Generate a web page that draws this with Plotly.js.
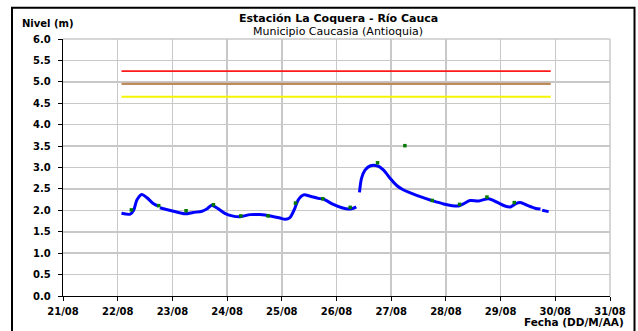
<!DOCTYPE html>
<html>
<head>
<meta charset="utf-8">
<script src="https://cdn.plot.ly/plotly-3.0.1.min.js"></script>
<style>
html,body{margin:0;padding:0;background:#fff;}
#chart{width:638px;height:331px;}
</style>
</head>
<body>
<div id="chart"></div>
<script>
// Continuous level record (m); null = gap in record
const levelTimes = [
  '2023-08-22 01:40','2023-08-22 05:30','2023-08-22 07:00','2023-08-22 08:25','2023-08-22 10:35',
  '2023-08-22 12:45','2023-08-22 15:35','2023-08-22 17:45','2023-08-22 18:05',
  '2023-08-22 18:30','2023-08-23 00:30','2023-08-23 05:30','2023-08-23 09:05','2023-08-23 13:00',
  '2023-08-23 15:05','2023-08-23 17:15','2023-08-23 19:25','2023-08-23 23:00','2023-08-24 02:10',
  '2023-08-24 05:45','2023-08-24 10:05','2023-08-24 14:25','2023-08-24 19:00','2023-08-24 23:15',
  '2023-08-25 01:30','2023-08-25 03:35','2023-08-25 04:20','2023-08-25 05:45','2023-08-25 07:10',
  '2023-08-25 09:35','2023-08-25 12:30','2023-08-25 16:05','2023-08-25 18:15','2023-08-25 22:35',
  '2023-08-26 02:25','2023-08-26 05:15','2023-08-26 07:25','2023-08-26 08:40','2023-08-26 09:20',
  '2023-08-26 10:05','2023-08-26 11:00','2023-08-26 12:30','2023-08-26 14:55','2023-08-26 17:45',
  '2023-08-26 20:40','2023-08-26 23:30','2023-08-27 02:25','2023-08-27 05:15','2023-08-27 08:25',
  '2023-08-27 12:45','2023-08-27 17:45','2023-08-27 23:00','2023-08-28 05:30','2023-08-28 07:40',
  '2023-08-28 10:35','2023-08-28 14:25','2023-08-28 18:45','2023-08-28 22:20','2023-08-29 01:55',
  '2023-08-29 04:20','2023-08-29 06:30','2023-08-29 08:40','2023-08-29 11:30','2023-08-29 15:05',
  '2023-08-29 17:30','2023-08-29 17:55','2023-08-29 18:15','2023-08-29 21:05'
];
const levelValues = [
  1.93, 1.91, 2.00, 2.24, 2.37,
  2.30, 2.16, 2.10, null,
  2.06, 1.98, 1.92, 1.95, 1.98,
  2.03, 2.12, 2.06, 1.93, 1.87,
  1.85, 1.90, 1.90, 1.87, 1.82,
  1.79, 1.83, 1.89, 2.05, 2.24,
  2.36, 2.33, 2.28, 2.26, 2.14,
  2.06, 2.03, 2.05, 2.08, null,
  2.42, 2.75, 2.94, 3.04, 3.04,
  2.94, 2.75, 2.58, 2.48, 2.41,
  2.32, 2.23, 2.15, 2.10, 2.15,
  2.23, 2.22, 2.27, 2.19, 2.10,
  2.08, 2.15, 2.18, 2.12, 2.05,
  2.03, null, 2.00, 1.97
];

// Manual readings (m)
const obsTimes = [
  '2023-08-22 06:00','2023-08-22 18:00','2023-08-23 06:00','2023-08-23 18:00','2023-08-24 06:00',
  '2023-08-24 18:00','2023-08-25 06:00','2023-08-25 18:00','2023-08-26 06:00','2023-08-26 18:00',
  '2023-08-27 06:00','2023-08-27 18:00','2023-08-28 06:00','2023-08-28 18:00','2023-08-29 06:00'
];
const obsValues = [2.01, 2.11, 1.99, 2.13, 1.87, 1.87, 2.17, 2.27, 2.07, 3.11, 3.51, 2.23, 2.14, 2.31, 2.18];

// Alert thresholds (m)
const thresholdTimes = ['2023-08-22 01:40', '2023-08-29 22:00'];
const redLevel = 5.25;
const orangeLevel = 4.95;
const yellowLevel = 4.65;

// Axis ticks
const xTickVals = ['2023-08-21','2023-08-22','2023-08-23','2023-08-24','2023-08-25','2023-08-26',
                   '2023-08-27','2023-08-28','2023-08-29','2023-08-30','2023-08-31'];
const xTickText = ['21/08','22/08','23/08','24/08','25/08','26/08','27/08','28/08','29/08','30/08','31/08'];
const yTickVals = [0,0.5,1,1.5,2,2.5,3,3.5,4,4.5,5,5.5,6];

const FONT = 'DejaVu Sans, Arial, sans-serif';

const traces = [
  {x: thresholdTimes, y: thresholdTimes.map(() => redLevel), mode: 'lines',
   line: {color: '#ff1a1a', width: 1.7}, hoverinfo: 'skip'},
  {x: thresholdTimes, y: thresholdTimes.map(() => orangeLevel), mode: 'lines',
   line: {color: 'rgb(190,140,90)', width: 2.3}, hoverinfo: 'skip'},
  {x: thresholdTimes, y: thresholdTimes.map(() => yellowLevel), mode: 'lines',
   line: {color: '#f5f500', width: 2}, hoverinfo: 'skip'},
  {x: levelTimes, y: levelValues, mode: 'lines', connectgaps: false,
   line: {color: '#0000ff', width: 3, shape: 'spline', smoothing: 0.8}},
  {x: obsTimes, y: obsValues, mode: 'markers',
   marker: {color: '#007a00', size: 3.5, symbol: 'square'}}
];

const L = 63, R = 610, T = 39, B = 296;
const W = R - L, H = B - T;
const px = v => (v - L) / W;
const py = v => (B - v) / H;

const layout = {
  width: 638, height: 331,
  margin: {l: 63, r: 28, t: 39, b: 35},
  paper_bgcolor: '#ffffff', plot_bgcolor: '#ffffff',
  showlegend: false,
  font: {family: FONT, color: '#000'},
  xaxis: {
    type: 'date',
    range: ['2023-08-21', '2023-08-31'],
    tickmode: 'array', tickvals: xTickVals, ticktext: xTickText,
    showgrid: true, gridcolor: '#c8c8c8', gridwidth: 1.5,
    showline: true, linecolor: '#000', linewidth: 1.3,
    ticks: 'outside', ticklen: 4, tickcolor: '#000', tickwidth: 1,
    ticklabelstandoff: 2,
    tickfont: {family: FONT, size: 10, color: '#000', weight: 'bold'},
    zeroline: false, fixedrange: true
  },
  yaxis: {
    range: [0, 6],
    tickmode: 'array', tickvals: yTickVals, tickformat: '.1f',
    showgrid: true, gridcolor: '#c8c8c8', gridwidth: 1.5,
    showline: true, linecolor: '#000', linewidth: 1.3,
    ticks: 'outside', ticklen: 4, tickcolor: '#000', tickwidth: 1,
    ticklabelstandoff: 5,
    tickfont: {family: FONT, size: 10, color: '#000', weight: 'bold'},
    zeroline: false, fixedrange: true
  },
  shapes: [
    {type: 'rect', xref: 'paper', yref: 'paper',
     x0: px(12), x1: px(634.5), y0: py(360), y1: py(7.7),
     line: {color: '#000', width: 2}, fillcolor: 'rgba(0,0,0,0)', layer: 'above'},
    {type: 'line', xref: 'paper', yref: 'paper', x0: 0, x1: 1, y0: 1, y1: 1,
     line: {color: '#c8c8c8', width: 1.5}, layer: 'below'},
    {type: 'line', xref: 'paper', yref: 'paper', x0: 1, x1: 1, y0: 0, y1: 1,
     line: {color: '#c8c8c8', width: 1.5}, layer: 'below'}
  ],
  annotations: [
    {text: 'Estación La Coquera - Río Cauca', xref: 'paper', yref: 'paper',
     x: px(338), y: py(18.3), xanchor: 'center', yanchor: 'middle', showarrow: false,
     borderpad: 0,
     font: {family: FONT, size: 11, color: '#000', weight: 'bold'}},
    {text: 'Municipio Caucasia (Antioquia)', xref: 'paper', yref: 'paper',
     x: px(338), y: py(31.3), xanchor: 'center', yanchor: 'middle', showarrow: false,
     borderpad: 0,
     font: {family: FONT, size: 11, color: '#000'}},
    {text: 'Nivel (m)', xref: 'paper', yref: 'paper',
     x: px(20), y: py(23.3), xanchor: 'left', yanchor: 'middle', showarrow: false,
     font: {family: FONT, size: 10, color: '#000', weight: 'bold'}},
    {text: 'Fecha (DD/M/AA)', xref: 'paper', yref: 'paper',
     x: px(626), y: py(321.7), xanchor: 'right', yanchor: 'middle', showarrow: false,
     font: {family: FONT, size: 10.5, color: '#000', weight: 'bold'}}
  ]
};

Plotly.newPlot('chart', traces, layout, {displayModeBar: false, staticPlot: true});
</script>
</body>
</html>
